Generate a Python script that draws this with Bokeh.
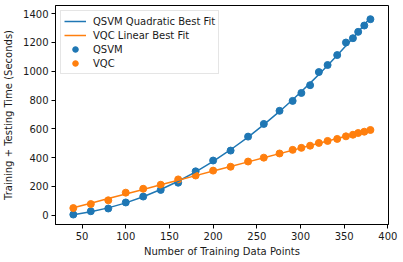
import numpy as np
from bokeh.plotting import figure
from bokeh.models import Range1d, FixedTicker, Legend, LegendItem
from bokeh.embed import file_html
from bokeh.resources import INLINE

# ---- data ----
x_points = [40, 60, 80, 100, 120, 140, 160, 180, 200, 220, 240, 258, 276,
            291, 301, 311, 321, 331, 342, 352, 360, 366, 373, 380]
qsvm_time = [5, 28, 47, 89, 130, 176, 226, 305, 380, 449, 546, 634, 725,
             794, 849, 903, 994, 1043, 1112, 1199, 1229, 1273, 1317, 1361]
vqc_time = [50, 78, 104, 157, 184, 212, 249, 276, 310, 337, 373, 400, 429,
            454, 468, 483, 502, 516, 530, 548, 559, 571, 580, 592]
x_ticks = [50, 100, 150, 200, 250, 300, 350, 400]
y_ticks = [0, 200, 400, 600, 800, 1000, 1200, 1400]

BLUE = "#1f77b4"
ORANGE = "#ff7f0e"
FONT = "DejaVu Sans"

xa = np.array(x_points, dtype=float)
q_fit = np.polyval(np.polyfit(xa, np.array(qsvm_time, dtype=float), 2), xa)
v_fit = np.polyval(np.polyfit(xa, np.array(vqc_time, dtype=float), 1), xa)

p = figure(width=403, height=262, output_backend="svg", toolbar_location=None,
           x_range=Range1d(19.6, 400.7), y_range=Range1d(-64, 1456),
           min_border_left=53, min_border_right=15, min_border_top=5,
           min_border_bottom=38)
p.grid.visible = False
p.outline_line_color = "black"
p.outline_line_width = 1
p.background_fill_color = "white"
p.border_fill_color = "white"

for ax in (p.xaxis[0], p.yaxis[0]):
    ax.axis_line_color = "black"
    ax.major_tick_line_color = "black"
    ax.minor_tick_line_color = None
    ax.major_tick_out = 4
    ax.major_tick_in = 0
    ax.major_label_text_font = FONT
    ax.major_label_text_font_size = "10px"
    ax.major_label_text_color = "#1a1a1a"
    ax.axis_label_text_font = FONT
    ax.axis_label_text_font_size = "10px"
    ax.axis_label_text_font_style = "normal"
    ax.axis_label_text_color = "#1a1a1a"

p.xaxis.ticker = FixedTicker(ticks=x_ticks)
p.yaxis.ticker = FixedTicker(ticks=y_ticks)
p.xaxis.axis_label = "Number of Training Data Points"
p.yaxis.axis_label = "Training + Testing Time (Seconds)"
p.xaxis.major_label_standoff = 3
p.xaxis.axis_label_standoff = 3
p.yaxis.major_label_standoff = 3
p.yaxis.axis_label_standoff = 6

s1 = p.scatter(x_points, qsvm_time, size=7, color=BLUE, line_color=BLUE)
s2 = p.scatter(x_points, vqc_time, size=7, color=ORANGE, line_color=ORANGE)
l1 = p.line(x_points, q_fit.tolist(), line_color=BLUE, line_width=1.5)
l2 = p.line(x_points, v_fit.tolist(), line_color=ORANGE, line_width=1.5)

legend = Legend(items=[
    LegendItem(label="QSVM Quadratic Best Fit", renderers=[l1]),
    LegendItem(label="VQC Linear Best Fit", renderers=[l2]),
    LegendItem(label="QSVM", renderers=[s1]),
    LegendItem(label="VQC", renderers=[s2]),
], location="top_left")
legend.label_text_font = FONT
legend.label_text_font_size = "10px"
legend.label_text_color = "#1a1a1a"
legend.padding = 3
legend.spacing = 0
legend.margin = 5
legend.glyph_width = 22
legend.glyph_height = 14
legend.label_height = 14
legend.label_standoff = 7
legend.border_line_color = "#cccccc"
legend.border_line_width = 1
legend.background_fill_alpha = 0.8
p.add_layout(legend)

open("out.html", "w").write(file_html(p, INLINE))
